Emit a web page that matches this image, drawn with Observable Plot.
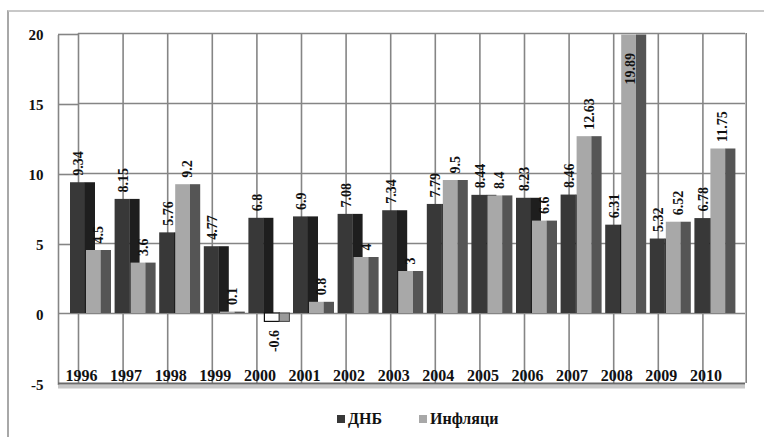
<!DOCTYPE html>
<html>
<head>
<meta charset="utf-8">
<script src="https://cdn.jsdelivr.net/npm/d3@7"></script>
<script src="https://cdn.jsdelivr.net/npm/@observablehq/plot@0.6"></script>
<style>
  body { margin: 0; background: #fff; font-family: "Liberation Serif", "Times New Roman", serif; }
  #wrap { position: relative; width: 764px; height: 437px; overflow: hidden; background: #fff; }
  #frame { position: absolute; left: 7px; top: 10px; width: 820px; height: 520px;
           border-left: 2px solid #a8a8a8; border-top: 2px solid #c8c8c8; }
  #chart { position: absolute; left: 0; top: 0; }
  .leg { position: absolute; top: 410px; font-size: 16px; font-weight: bold; color: #111; white-space: nowrap;
         font-family: "Liberation Serif", serif; }
  .sw { display: inline-block; width: 8px; height: 8px; margin-right: 3px; vertical-align: 1px; }
</style>
</head>
<body>
<div id="wrap">
  <div id="frame"></div>
  <div id="chart"></div>
  <div class="leg" style="left:337px"><span class="sw" style="background:#383838"></span>ДНБ</div>
  <div class="leg" style="left:419px"><span class="sw" style="background:#a8a8a8"></span>Инфляци</div>
</div>
<script>
const years = ["1996","1997","1998","1999","2000","2001","2002","2003","2004","2005","2006","2007","2008","2009","2010"];
const dnbValues = [9.34, 8.15, 5.76, 4.77, 6.8, 6.9, 7.08, 7.34, 7.79, 8.44, 8.23, 8.46, 6.31, 5.32, 6.78];
const inflValues = [4.5, 3.6, 9.2, 0.1, -0.6, 0.8, 4, 3, 9.5, 8.4, 6.6, 12.63, 19.89, 6.52, 11.75];
const yTicks = [-5, 0, 5, 10, 15, 20];
const gridTicks = [5, 10, 15, 20];

const dnb = years.map((year, i) => ({year, v: dnbValues[i]}));
const infl = years.map((year, i) => ({year, v: inflValues[i]}));

const grid = "#858585";
const serif = "Liberation Serif";
const font = {fontWeight: "bold", fontSize: 14, fill: "#111", fontFamily: serif};

const chart = Plot.plot({
  width: 764,
  height: 400,
  marginLeft: 67,
  marginRight: 28,
  marginTop: 33,
  marginBottom: 17,
  style: {background: "transparent", fontFamily: "'Liberation Serif', serif", overflow: "visible"},
  x: {type: "band", domain: years, padding: 0, round: false, axis: null},
  y: {domain: [-5, 20], axis: null},
  marks: [
    // back wall horizontal grid
    Plot.ruleY(gridTicks, {stroke: grid, strokeWidth: 1.6, insetLeft: 11, insetRight: -9}),
    // left wall grid
    Plot.ruleY(gridTicks, {stroke: grid, strokeWidth: 1.6, insetLeft: -9, insetRight: 658, dy: 1}),
    // vertical grid
    Plot.ruleX(years, {x: d => d, y1: -5, y2: 20, dx: -11.3, stroke: grid, strokeWidth: 1.6}),
    Plot.ruleX(["2010"], {x: d => d, y1: -5, y2: 20, dx: 32, stroke: grid, strokeWidth: 1.6}),
    Plot.ruleX(["1996"], {x: d => d, y1: -5, y2: 20, dx: -31.3, dy: 2, stroke: grid, strokeWidth: 1.6}),
    // floor at 0
    Plot.ruleY([0], {stroke: grid, strokeWidth: 1.6, insetLeft: -9, insetRight: -9}),
    // bottom edge at -5
    Plot.ruleY([-5], {stroke: "#c8c8c8", strokeWidth: 4, dy: 3, insetLeft: -9, insetRight: -9}),
    Plot.ruleY([-5], {stroke: "#6a6a6a", strokeWidth: 1.8, insetLeft: -9, insetRight: -9}),
    // ДНБ bars
    Plot.barY(dnb, {x: "year", y: "v", insetLeft: 3, insetRight: 26.6, fill: "#383838"}),
    Plot.barY(dnb, {x: "year", y: "v", insetLeft: 17.8, insetRight: 16.6, fill: "#1e1e1e"}),
    // Инфляци bars
    Plot.barY(infl, {x: "year", y: "v", insetLeft: 19, insetRight: 10.6,
      fill: d => d.v < 0 ? "#ffffff" : "#a8a8a8", stroke: d => d.v < 0 ? "#111" : "none", strokeWidth: 1.2}),
    Plot.barY(infl, {x: "year", y: "v", insetLeft: 33.8, insetRight: 0.6,
      fill: d => d.v < 0 ? "#9a9a9a" : "#555555", stroke: d => d.v < 0 ? "#444" : "none", strokeWidth: 1}),
    // value labels
    Plot.text(dnb, {x: "year", y: "v", text: d => String(d.v), rotate: -90, textAnchor: "start", dx: -10.8, dy: -7, ...font}),
    Plot.text(infl.filter(d => d.v >= 0 && d.v < 18), {x: "year", y: "v", text: d => String(d.v), rotate: -90, textAnchor: "start", dx: 8.7, dy: -7, ...font}),
    Plot.text(infl.filter(d => d.v < 0), {x: "year", y: "v", text: d => String(d.v), rotate: -90, textAnchor: "end", dx: 6, dy: 8, ...font}),
    Plot.text(infl.filter(d => d.v >= 18), {x: "year", y: "v", text: d => String(d.v), rotate: -90, textAnchor: "end", dx: 6, dy: 18, ...font}),
    // year labels
    Plot.text(years, {x: d => d, y: -5, text: d => d, dx: -8.3, dy: -8, fontWeight: "bold", fontSize: 16, fill: "#111", fontFamily: serif}),
    // y axis labels
    Plot.axisY(yTicks, {label: null, tickSize: 0, tickPadding: 24, tickFormat: d => String(d), fontWeight: "bold", fontSize: 15, fill: "#111", fontFamily: serif, dy: 2})
  ]
});
document.getElementById("chart").appendChild(chart);
</script>
</body>
</html>
